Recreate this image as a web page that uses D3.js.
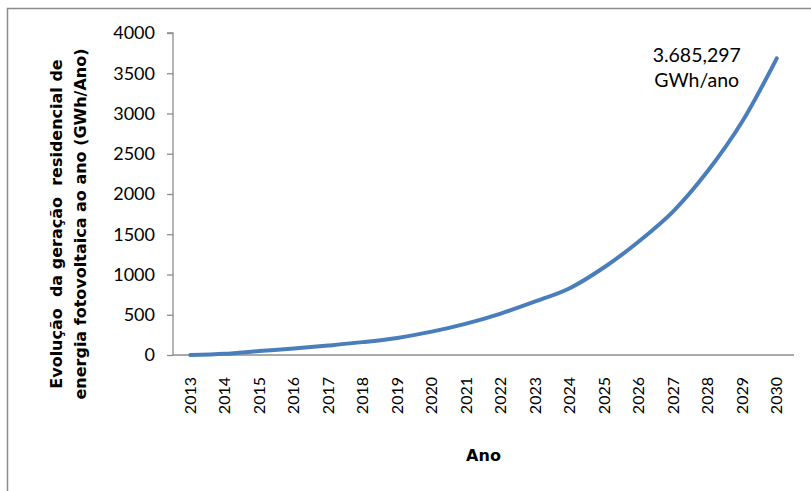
<!DOCTYPE html>
<html>
<head>
<meta charset="utf-8">
<script src="https://cdn.jsdelivr.net/npm/d3@7"></script>
<style>
  html, body { margin: 0; padding: 0; background: #fff; }
  svg { display: block; }
</style>
</head>
<body>
<svg id="chart" width="811" height="491"></svg>
<script>
// Residential PV generation per year (GWh/ano)
const years = ["2013","2014","2015","2016","2017","2018","2019","2020","2021",
               "2022","2023","2024","2025","2026","2027","2028","2029","2030"];
const generation = [0, 15, 50, 80, 118, 160, 212, 290, 390,
                    515, 665, 830, 1090, 1410, 1785, 2285, 2900, 3685.297];
const yTicks = [0, 500, 1000, 1500, 2000, 2500, 3000, 3500, 4000];
const endLabel = ["3.685,297", "GWh/ano"];
const yTitle = ["Evolução  da geração  residencial de",
                "energia fotovoltaica ao ano (GWh/Ano)"];
const xTitle = "Ano";

const svg = d3.select("#chart");
const margin = { left: 173, right: 17, top: 33, bottom: 136 };
const W = 811, H = 491;

// outer frame (only top and left edges fall inside the view)
svg.append("path")
  .attr("d", `M7.5,${H + 5} V8.5 H${W + 5}`)
  .attr("fill", "none").attr("stroke", "#8c8c8c").attr("stroke-width", 1.5);

const x = d3.scaleBand().domain(years).range([margin.left, W - margin.right]);
const y = d3.scaleLinear().domain([0, 4000]).range([H - margin.bottom, margin.top]);

const tickFont = "Lato, 'Open Sans', sans-serif";

// y axis
const yAxis = svg.append("g")
  .attr("transform", `translate(${margin.left},0)`)
  .call(d3.axisLeft(y).tickValues(yTicks).tickSize(6).tickPadding(12).tickFormat(d3.format("d")));
yAxis.selectAll("path, line").attr("stroke", "#8c8c8c").attr("stroke-width", 1.3);
yAxis.select(".domain").attr("d", `M-6,${y(4000)}H0V${y(0)}`);
yAxis.selectAll("text").attr("fill", "#000").style("font-family", tickFont).style("font-size", "18px");

// x axis
const xAxis = svg.append("g")
  .attr("transform", `translate(0,${y(0)})`)
  .call(d3.axisBottom(x).tickSize(0).tickPadding(0));
xAxis.select(".domain").attr("stroke", "#8c8c8c").attr("stroke-width", 1.5)
  .attr("d", `M${margin.left},0H${W - margin.right}`);
xAxis.selectAll("text")
  .attr("fill", "#000")
  .style("font-family", tickFont).style("font-size", "16px")
  .attr("text-anchor", "end")
  .attr("dy", "0.35em")
  .attr("transform", "translate(0,22) rotate(-90)");

// series line
const line = d3.line()
  .x((d, i) => x(years[i]) + x.bandwidth() / 2)
  .y(d => y(d))
  .curve(d3.curveCatmullRom.alpha(0.5));
svg.append("path")
  .datum(generation)
  .attr("d", line)
  .attr("fill", "none")
  .attr("stroke", "#4a7ebb")
  .attr("stroke-width", 4)
  .attr("stroke-linecap", "round");

// value note near the final point
const noteX = x(years[years.length - 1]) + x.bandwidth() / 2 - 80;
const note = svg.append("text")
  .attr("y", y(generation[generation.length - 1]) + 4)
  .attr("text-anchor", "middle")
  .style("font-family", tickFont).style("font-size", "19.5px").attr("fill", "#000");
note.selectAll("tspan").data(endLabel).join("tspan")
  .attr("x", noteX)
  .attr("dy", (d, i) => i === 0 ? 0 : 25)
  .text(d => d);

// axis titles
const yt = svg.append("text")
  .attr("transform", `translate(0,224) rotate(-90)`)
  .attr("text-anchor", "middle")
  .style("white-space", "pre")
  .style("font-family", "'DejaVu Sans', Verdana, sans-serif")
  .style("font-weight", "bold").style("font-size", "16px").attr("fill", "#000");
yt.selectAll("tspan").data(yTitle).join("tspan")
  .attr("x", 0)
  .attr("y", (d, i) => 62 + i * 24)
  .text(d => d);

svg.append("text")
  .attr("x", (margin.left + W - margin.right) / 2)
  .attr("y", 461)
  .attr("text-anchor", "middle")
  .style("font-family", "'DejaVu Sans', Verdana, sans-serif")
  .style("font-weight", "bold").style("font-size", "16px").attr("fill", "#000")
  .text(xTitle);
</script>
</body>
</html>
